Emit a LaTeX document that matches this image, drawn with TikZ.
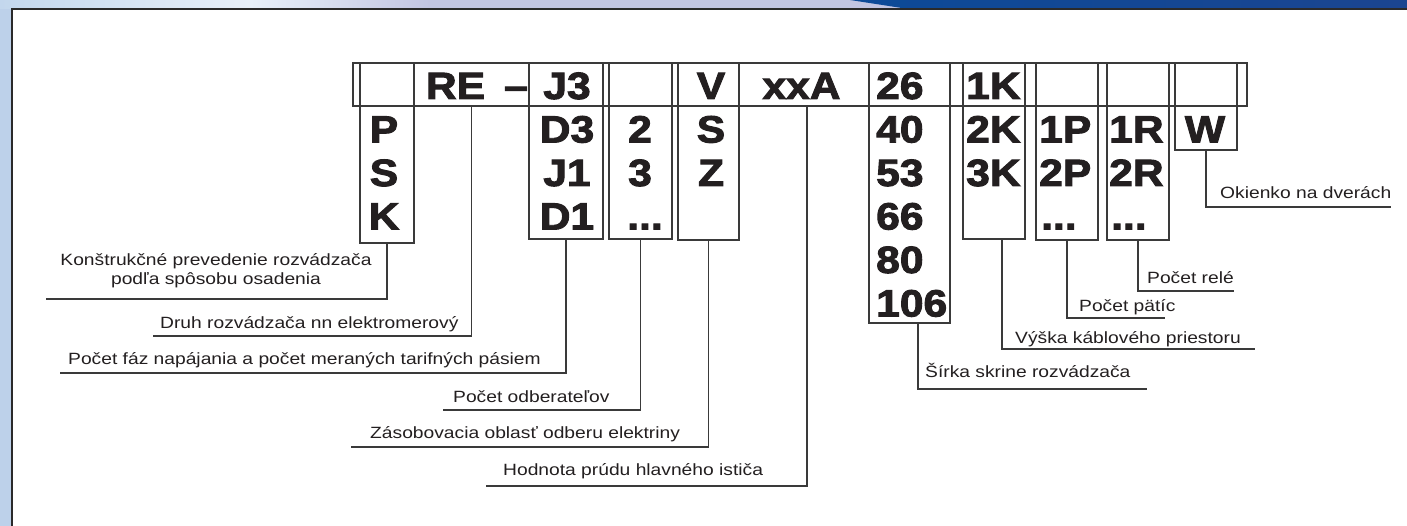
\documentclass[tikz,border=0pt]{standalone}
\usepackage{fontspec}
\setmainfont{Liberation Sans}
\newfontfamily\labfont[FakeStretch=1.18]{Liberation Sans}
\newfontfamily\codefont[FakeStretch=1.12,FakeBold=2.5]{Liberation Sans}
\definecolor{ink}{HTML}{231F20}
\definecolor{ln}{HTML}{3A3A3A}
\definecolor{sideblue}{HTML}{BDD1EA}
\definecolor{topA}{HTML}{C3D7ED}
\definecolor{topB}{HTML}{E8F0F9}
\definecolor{topC}{HTML}{C2C5E2}
\definecolor{darkblue}{HTML}{0C4A98}
\definecolor{darkblueB}{HTML}{1B4590}
\definecolor{frame}{HTML}{2A2A2A}
\tikzset{
  cell/.style={draw=ln, line width=1.4pt, inner sep=0pt, outer sep=0pt, anchor=north west},
  blank/.style={inner sep=0pt, outer sep=0pt, anchor=north west},
  code/.style={font=\codefont\bfseries\fontsize{38}{38}\selectfont, text=ink, inner sep=0pt, anchor=base},
  codel/.style={code, anchor=base west},
  lab/.style={font=\labfont\fontsize{16.3}{19}\selectfont, text=ink, inner sep=0pt, anchor=base west},
  lead/.style={draw=ln, line width=1.3pt},
}
\begin{document}
\begin{tikzpicture}[x=1pt,y=-1pt]
\useasboundingbox (0,0) rectangle (1407,526);
% background
\fill[sideblue] (0,0) rectangle (12,526);
\shade[left color=topA, right color=topB] (0,0) rectangle (250,8.5);
\shade[left color=topB, right color=topC] (250,0) rectangle (430,8.5);
\fill[topC] (430,0) rectangle (1407,8.5);
\shade[left color=darkblue, right color=darkblueB] (850,0) -- (1407,0) -- (1407,8.5) -- (905,8.5) -- cycle;
\fill[white] (12,8.5) rectangle (1407,526);
\draw[frame, line width=2pt] (12,526) -- (12,9) -- (1407,9);

% boxes
\node[cell, minimum width=894pt, minimum height=43pt] (row) at (353,63) {};
\node[cell, minimum width=54pt, minimum height=180pt] (bP) at (360,63) {};
\node[blank, minimum width=115pt, minimum height=43pt] (cRE) at (414,63) {};
\node[cell, minimum width=74pt, minimum height=176pt] (bJ) at (529,63) {};
\node[cell, minimum width=63pt, minimum height=176pt] (bN) at (609,63) {};
\node[cell, minimum width=61pt, minimum height=177pt] (bV) at (678,63) {};
\node[blank, minimum width=130pt, minimum height=43pt] (cX) at (739,63) {};
\node[cell, minimum width=81pt, minimum height=260pt] (b26) at (869,63) {};
\node[cell, minimum width=62pt, minimum height=176pt] (bK) at (963,63) {};
\node[cell, minimum width=62pt, minimum height=177pt] (bPP) at (1036,63) {};
\node[cell, minimum width=62pt, minimum height=177pt] (bR) at (1107,63) {};
\node[cell, minimum width=62pt, minimum height=87pt] (bW) at (1175,63) {};

% code letters
\node[code] (tP) at (384,142.5) {P};
\node[code] (tS) at (384,186) {S};
\node[code] (tK) at (384,229.5) {K};
\node[code] (tRE) at (455.5,99) {RE};
\node[code] (tDash) at (516,99) {–};
\node[code] (tJ3) at (567,99) {J3};
\node[code] (tD3) at (567,142.5) {D3};
\node[code] (tJ1) at (567,186) {J1};
\node[code] (tD1) at (567,229.5) {D1};
\node[code] (t2) at (640,142.5) {2};
\node[code] (t3) at (640,186) {3};
\node[code] (tNd) at (645,229.5) {...};
\node[code] (tV) at (711,99) {V};
\node[code] (tVS) at (711,142.5) {S};
\node[code] (tVZ) at (711,186) {Z};
\node[code] (tA) at (801.5,99) {xxA};
\node[codel] (t26) at (876,99) {26};
\node[codel] (t40) at (876,142.5) {40};
\node[codel] (t53) at (876,186) {53};
\node[codel] (t66) at (876,229.5) {66};
\node[codel] (t80) at (876,273) {80};
\node[codel] (t106) at (876,316.5) {106};
\node[codel] (t1K) at (966,99) {1K};
\node[codel] (t2K) at (966,142.5) {2K};
\node[codel] (t3K) at (966,186) {3K};
\node[codel] (t1P) at (1039,142.5) {1P};
\node[codel] (t2P) at (1039,186) {2P};
\node[codel] (tPd) at (1041,229.5) {...};
\node[codel] (t1R) at (1109,142.5) {1R};
\node[codel] (t2R) at (1109,186) {2R};
\node[codel] (tRd) at (1111,229.5) {...};
\node[code] (tW) at (1205,142.5) {W};

% leader end points
\coordinate (kP) at (46,299);
\coordinate (kRE) at (153,336);
\coordinate (kJ) at (60,373);
\coordinate (kN) at (443,410);
\coordinate (kV) at (351,447);
\coordinate (kX) at (486,486);
\coordinate (k26) at (1147,389);
\coordinate (kK) at (1255,349);
\coordinate (kPP) at (1165,318);
\coordinate (kR) at (1234,291);
\coordinate (kW) at (1391,207);

\draw[lead] (bP.south) |- (kP);
\draw[lead] (cRE.south) |- (kRE);
\draw[lead] (bJ.south) |- (kJ);
\draw[lead] (bN.south) |- (kN);
\draw[lead] (bV.south) |- (kV);
\draw[lead] ([xshift=3pt]cX.south) |- (kX);
\draw[lead] ([xshift=8.5pt]b26.south) |- (k26);
\draw[lead] ([xshift=8pt]bK.south) |- (kK);
\draw[lead] (bPP.south) |- (kPP);
\draw[lead] (bR.south) |- (kR);
\draw[lead] (bW.south) |- (kW);

% labels
\node[lab, anchor=center, align=center] (lP) at (216,271) {Konštrukčné prevedenie rozvádzača\\podľa spôsobu osadenia};
\node[lab] (lRE) at (160,329) {Druh rozvádzača nn elektromerový};
\node[lab] (lJ) at (68,364) {Počet fáz napájania a počet meraných tarifných pásiem};
\node[lab] (lN) at (453,402) {Počet odberateľov};
\node[lab] (lV) at (370,438) {Zásobovacia oblasť odberu elektriny};
\node[lab] (lX) at (503,475) {Hodnota prúdu hlavného ističa};
\node[lab] (l26) at (925,377) {Šírka skrine rozvádzača};
\node[lab] (lK) at (1015,343) {Výška káblového priestoru};
\node[lab] (lPP) at (1079,312) {Počet pätíc};
\node[lab] (lR) at (1147,284) {Počet relé};
\node[lab] (lW) at (1220,199) {Okienko na dverách};
\end{tikzpicture}
\end{document}
